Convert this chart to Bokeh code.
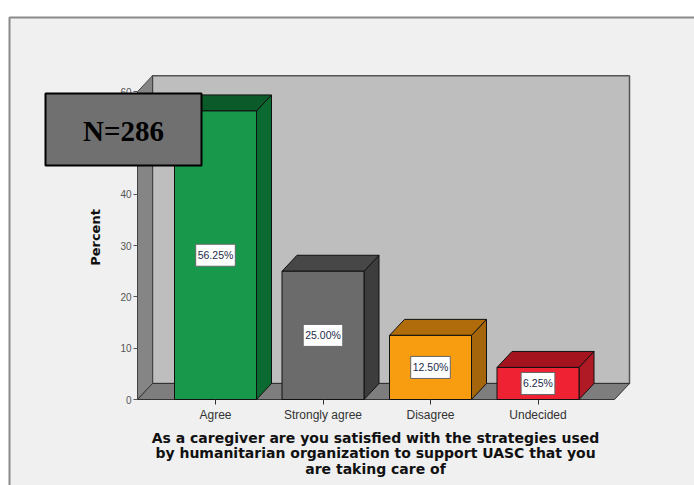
import numpy as np
from bokeh.plotting import figure
from bokeh.models import FixedTicker
from bokeh.core.properties import value
from bokeh.embed import file_html
from bokeh.resources import INLINE

# ---------------- data ----------------
categories = ["Agree", "Strongly agree", "Disagree", "Undecided"]
percents = [56.25, 25.00, 12.50, 6.25]
pct_labels = ["56.25%", "25.00%", "12.50%", "6.25%"]
y_ticks = [0, 10, 20, 30, 40, 50, 60]
x_title = ("As a caregiver are you satisfied with the strategies used\n"
           "by humanitarian organization to support UASC that you\n"
           "are taking care of")
y_title = "Percent"
n_text = "N=286"

# ---------------- styles ----------------
front_colors = ["#17984a", "#6b6b6b", "#f89c10", "#ee2233"]
top_colors = ["#0b5a2a", "#474747", "#b06c0a", "#a3141e"]
side_colors = ["#0a6a30", "#3d3d3d", "#a5650a", "#b01a24"]

W, H = 694, 485
OFF = 0
X0, XU = 215.0, 107.5     # canvas px of first category, px per category
Y0, YU = 399.0, 5.13      # canvas px of 0 %, px per percent


def cx(px):
    return (px - OFF - X0) / XU


def cy(py):
    return (Y0 - (py - OFF)) / YU


DX = 15.0 / XU
DY = 16.0 / YU
BAR_W = 82.0 / XU
xl, xr = cx(137), cx(614)
ytop = y_ticks[-1]

p = figure(width=W, height=H,
           x_range=(-X0 / XU, (W - X0) / XU),
           y_range=(-(H - Y0) / YU, Y0 / YU),
           output_backend="svg", toolbar_location=None,
           min_border=0, background_fill_color="white",
           border_fill_color="white", outline_line_color=None)
p.grid.visible = False

# outer panel
p.quad(left=[cx(9)], right=[cx(730)], top=[cy(17)], bottom=[cy(530)],
       fill_color="#f0f0f0", line_color="#8a8a8a", line_width=2)

# back wall
p.quad(left=[xl + DX], right=[xr + DX], bottom=[DY], top=[ytop + DY],
       fill_color="#bebebe", line_color="#555555", line_width=1.5)
# left side wall
p.patches(xs=[[xl, xl, xl + DX, xl + DX]], ys=[[0, ytop, ytop + DY, DY]],
          fill_color="#858585", line_color="#444444", line_width=1)
# floor
p.patches(xs=[[xl, xr, xr + DX, xl + DX]], ys=[[0, 0, DY, DY]],
          fill_color="#7e7e7e", line_color="#333333", line_width=1)

# bars
idx = np.arange(len(categories), dtype=float)
vals = np.array(percents)
lefts = idx - BAR_W / 2
rights = idx + BAR_W / 2
side_xs = [[r, r, r + DX, r + DX] for r in rights]
side_ys = [[0, v, v + DY, DY] for v in vals]
top_xs = [[l, r, r + DX, l + DX] for l, r in zip(lefts, rights)]
top_ys = [[v, v, v + DY, v + DY] for v in vals]
p.patches(xs=side_xs, ys=side_ys, fill_color=side_colors,
          line_color="#111111", line_width=1)
p.patches(xs=top_xs, ys=top_ys, fill_color=top_colors,
          line_color="#111111", line_width=1)
p.quad(left=lefts, right=rights, bottom=0, top=vals, fill_color=front_colors,
       line_color="#111111", line_width=1)

# value labels
p.text(x=idx, y=vals / 2, text=pct_labels, text_align="center",
       text_baseline="middle", text_font=value("Liberation Sans"),
       text_font_size="10.5px", text_color="#1c2b4a",
       background_fill_color="white", border_line_color="#666666",
       border_line_width=1, padding=(2, 5))

# axes
p.yaxis.fixed_location = xl
p.yaxis.ticker = FixedTicker(ticks=y_ticks)
p.yaxis.axis_line_color = None
p.yaxis.major_tick_out = 4
p.yaxis.major_tick_in = 0
p.yaxis.major_tick_line_color = "#555555"
p.yaxis.major_label_standoff = 2
p.yaxis.major_label_text_font = "Liberation Sans"
p.yaxis.major_label_text_font_size = "10px"
p.yaxis.major_label_text_color = "#555555"

p.xaxis.fixed_location = 0
p.xaxis.ticker = FixedTicker(ticks=list(idx))
p.xaxis.major_label_overrides = {float(i): c for i, c in zip(idx, categories)}
p.xaxis.axis_line_color = None
p.xaxis.major_tick_out = 5
p.xaxis.major_tick_in = 0
p.xaxis.major_tick_line_color = "#333333"
p.xaxis.major_label_standoff = 3
p.xaxis.major_label_text_font = "Liberation Sans"
p.xaxis.major_label_text_font_size = "12px"
p.xaxis.major_label_text_color = "#333333"

# axis titles
p.text(x=[cx(375)], y=[cy(453)], text=[x_title], text_align="center",
       text_baseline="middle", text_font=value("DejaVu Sans"),
       text_font_style="bold", text_font_size="14px", text_color="#111111",
       text_line_height=0.98)
p.text(x=[cx(95)], y=[cy(237)], text=[y_title], angle=np.pi / 2,
       text_align="center", text_baseline="middle",
       text_font=value("DejaVu Sans"), text_font_style="bold",
       text_font_size="13px", text_color="#111111")

# N box
p.quad(left=[cx(45)], right=[cx(201)], top=[cy(93)], bottom=[cy(165)],
       fill_color="#707070", line_color="black", line_width=2, level="overlay")
p.text(x=[cx(123)], y=[cy(130)], text=[n_text], text_align="center",
       text_baseline="middle", text_font=value("Liberation Serif"),
       text_font_style="bold", text_font_size="29px", text_color="black",
       level="overlay")

open("out.html", "w").write(file_html(p, INLINE))
